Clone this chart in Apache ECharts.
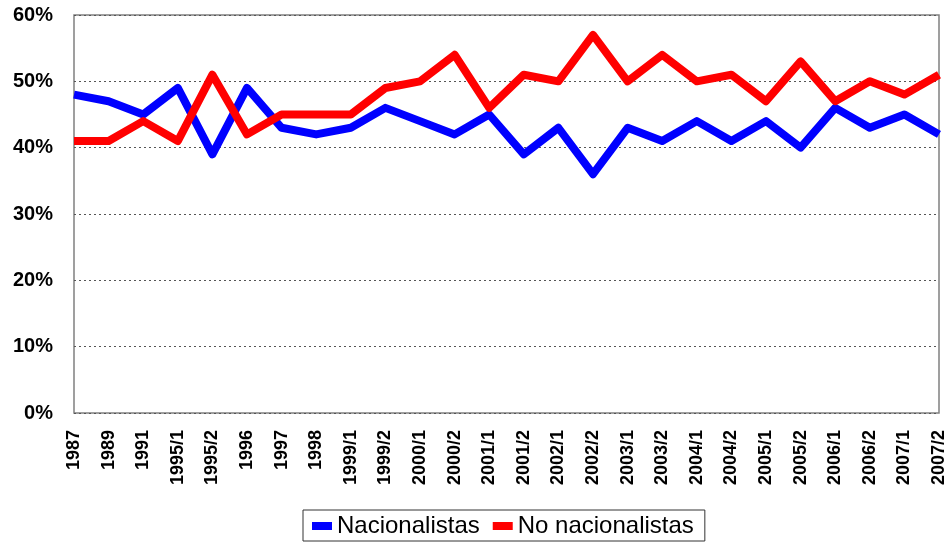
<!DOCTYPE html>
<html>
<head>
<meta charset="utf-8">
<script src="https://cdn.jsdelivr.net/npm/echarts@6/dist/echarts.min.js"></script>
<style>
  html, body { margin: 0; padding: 0; background: #fff; }
  #chart { width: 951px; height: 544px; }
</style>
</head>
<body>
<div id="chart"></div>
<script>
var categories = ['1987', '1989', '1991', '1995/1', '1995/2', '1996', '1997', '1998', '1999/1', '1999/2',
  '2000/1', '2000/2', '2001/1', '2001/2', '2002/1', '2002/2', '2003/1', '2003/2', '2004/1', '2004/2',
  '2005/1', '2005/2', '2006/1', '2006/2', '2007/1', '2007/2'];
var nacionalistas = [48, 47, 45, 49, 39, 49, 43, 42, 43, 46, 44, 42, 45, 39, 43, 36, 43, 41, 44, 41, 44, 40, 46, 43, 45, 42];
var noNacionalistas = [41, 41, 44, 41, 51, 42, 45, 45, 45, 49, 50, 54, 46, 51, 50, 57, 50, 54, 50, 51, 47, 53, 47, 50, 48, 51];

var myChart = echarts.init(document.getElementById('chart'));
myChart.setOption({
  animation: false,
  grid: {
    left: 74,
    right: 12,
    top: 15,
    bottom: 131,
    show: true,
    borderColor: '#808080',
    borderWidth: 1.5
  },
  legend: {
    left: 303,
    top: 510,
    itemWidth: 20,
    itemHeight: 8,
    itemGap: 13,
    icon: 'rect',
    borderColor: '#333',
    borderWidth: 1,
    padding: [4, 11, 3, 9],
    textStyle: {
      fontFamily: 'Liberation Sans, Arial',
      fontSize: 24,
      color: '#000',
      padding: [0, 0, 0, 0]
    },
    data: ['Nacionalistas', 'No nacionalistas']
  },
  xAxis: {
    type: 'category',
    boundaryGap: false,
    data: categories,
    axisLine: { show: false },
    axisTick: { show: false },
    axisLabel: {
      rotate: 90,
      interval: 0,
      margin: 17,
      color: '#000',
      fontFamily: 'Liberation Sans, Arial',
      fontWeight: 'bold',
      fontSize: 18
    }
  },
  yAxis: {
    type: 'value',
    min: 0,
    max: 60,
    interval: 10,
    axisLine: { show: false },
    axisTick: { show: false },
    splitLine: {
      lineStyle: { color: '#555', type: [2, 3], width: 1 }
    },
    axisLabel: {
      formatter: '{value}%',
      margin: 21,
      color: '#000',
      fontFamily: 'Liberation Sans, Arial',
      fontWeight: 'bold',
      fontSize: 20
    }
  },
  series: [
    {
      name: 'Nacionalistas',
      type: 'line',
      data: nacionalistas,
      symbol: 'none',
      color: '#0000ff',
      lineStyle: { width: 8, color: '#0000ff', join: 'round' }
    },
    {
      name: 'No nacionalistas',
      type: 'line',
      data: noNacionalistas,
      symbol: 'none',
      color: '#ff0000',
      lineStyle: { width: 8, color: '#ff0000', join: 'round' }
    }
  ]
});
</script>
</body>
</html>
